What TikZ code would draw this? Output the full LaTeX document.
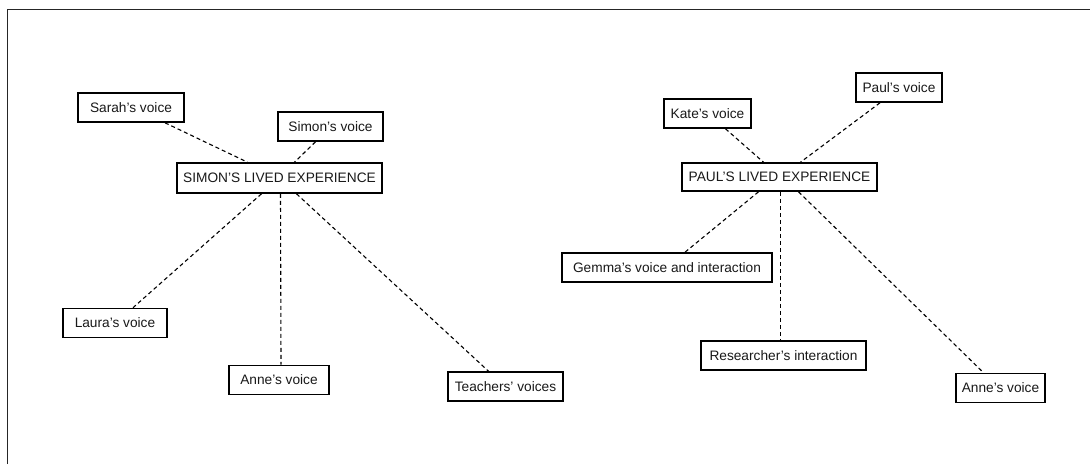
\documentclass[tikz,border=0pt]{standalone}
\usepackage{fontspec}
\setmainfont{Liberation Sans}
\usetikzlibrary{calc}
\tikzset{
  vbox/.style={draw=black, line width=1.6pt, fill=white, minimum height=29pt, inner sep=0pt, align=center, font=\fontsize{13.7}{15}\selectfont, text=black!90},
  link/.style={draw=black, line width=1.1pt, dash pattern=on 4pt off 3pt},
  frame/.style={draw=black!85, line width=1.5pt}
}
\begin{document}
\begin{tikzpicture}[x=1pt,y=-1pt]
\useasboundingbox (0,0) rectangle (1090,464);
\coordinate (fb) at (7.5,464);
\coordinate (fc) at (7.5,9.5);
\coordinate (fr) at (1090,9.5);
\draw[frame] (fb) -- (fc) -- (fr);

% Simon
\node[vbox, minimum width=106pt] (sarah) at (131,107.5) {Sarah’s voice};
\node[vbox, minimum width=105pt] (simonv) at (330.5,126.5) {Simon’s voice};
\node[vbox, minimum width=205pt, minimum height=30pt] (simon) at (279.5,178) {SIMON’S LIVED EXPERIENCE};
\node[vbox, minimum width=104pt] (laura) at (115,323) {Laura’s voice};
\node[vbox, minimum width=100pt] (annel) at (279,380) {Anne’s voice};
\node[vbox, minimum width=115pt] (teach) at (505.5,386.5) {Teachers’ voices};

\draw[link] ($(sarah.south)+(34,0)$) -- ($(simon.north)+(-32,0)$);
\draw[link] ($(simonv.south)+(-15,0)$) -- ($(simon.north)+(15,0)$);
\draw[link] ($(simon.south)+(-18,0)$) -- ($(laura.north)+(18,0)$);
\draw[link] ($(simon.south)+(1,0)$) -- ($(annel.north)+(2,0)$);
\draw[link] ($(simon.south)+(17,0)$) -- ($(teach.north)+(-17,0)$);

% Paul
\node[vbox, minimum width=87pt] (kate) at (707.5,113.5) {Kate’s voice};
\node[vbox, minimum width=86pt] (paulv) at (899,87.5) {Paul’s voice};
\node[vbox, minimum width=195pt, minimum height=28pt] (paul) at (779.5,177) {PAUL’S LIVED EXPERIENCE};
\node[vbox, minimum width=210pt] (gemma) at (667,267.5) {Gemma’s voice and interaction};
\node[vbox, minimum width=165pt] (res) at (783.5,355.5) {Researcher’s interaction};
\node[vbox, minimum width=89pt] (anner) at (1000.5,388) {Anne’s voice};

\draw[link] ($(kate.south)+(18,0)$) -- ($(paul.north)+(-16,0)$);
\draw[link] ($(paulv.south)+(-19,0)$) -- ($(paul.north)+(21,0)$);
\draw[link] ($(paul.south)+(-21,0)$) -- ($(gemma.north)+(18,0)$);
\draw[link] ($(paul.south)+(1,0)$) -- ($(res.north)+(-3,0)$);
\draw[link] ($(paul.south)+(19,0)$) -- ($(anner.north)+(-17,0)$);
\end{tikzpicture}
\end{document}
